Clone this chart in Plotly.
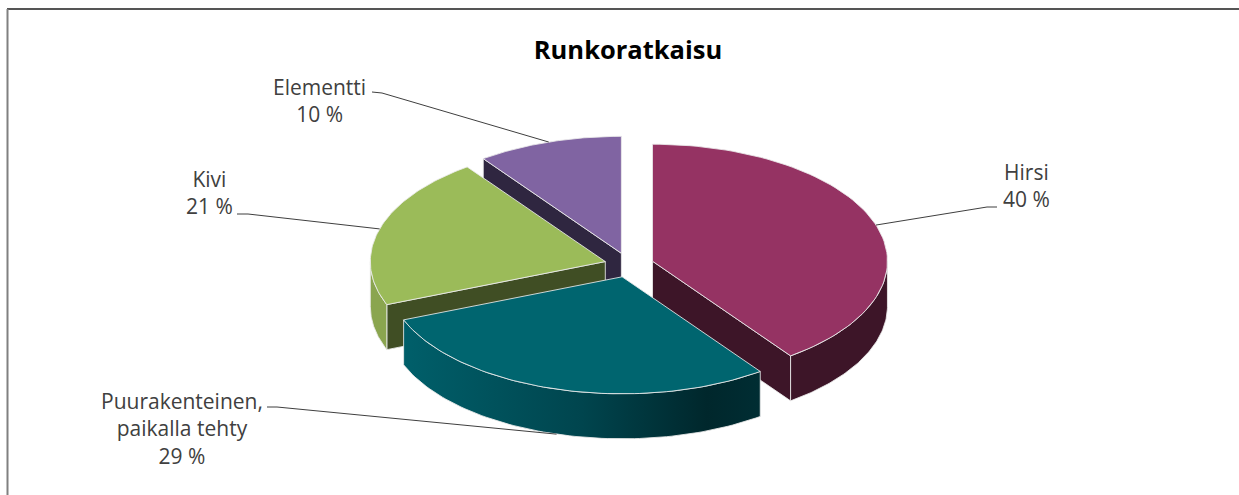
import numpy as np
import plotly.graph_objects as go

# Data
categories = ["Hirsi", "Puurakenteinen,<br>paikalla tehty", "Kivi", "Elementti"]
values = [40, 29, 21, 10]

# Styling per slice: top face, radial wall, outer wall
top_colors = ["#953363", "#00656f", "#9bbb59", "#8064a2"]
side_colors = ["#3d1528", "#003a42", "#404e24", "#2f2640"]
outer_colors = ["#3d1528", None, "#8aa54f", "#5b4775"]
puu_gradient = [[0, "#005f6a"], [0.5, "#00454e"], [0.85, "#00272c"], [1, "#002d33"]]

# Pie geometry in page pixels
CX, CY = 629, 265
RX, RY = 235, 117
DEPTH = 45
EXPLODE = 0.105

# Label placement (centre of text block) and leader-line stubs
label_pos = [(1026, 185), (182, 428), (209, 192), (319, 100)]
leader_stub = [((997, 207), (987, 207)), ((267, 407), (277, 407)),
               ((237, 214), (248, 214)), ((372, 92), (382, 93))]

W, H = 1239, 495
fig = go.Figure()

total = sum(values)
bounds = np.concatenate([[0], np.cumsum(values)]) / total * 360.0


def pt(theta, cx, cy, dz=0.0):
    t = np.radians(theta)
    return cx + RX * np.sin(t), cy - RY * np.cos(t) + dz


def arc(a, b, cx, cy, dz=0.0, n=80):
    th = np.linspace(a, b, n)
    x, y = pt(th, cx, cy, dz)
    return list(x), list(y)


edge = dict(color="rgba(235,235,235,0.85)", width=1)


def poly(xs, ys, color, gradient=None):
    kw = dict(x=xs + [xs[0]], y=ys + [ys[0]], mode="lines", fill="toself",
              line=edge, hoverinfo="skip", showlegend=False)
    if gradient is not None:
        kw["fillgradient"] = dict(type="horizontal", colorscale=gradient)
    else:
        kw["fillcolor"] = color
    fig.add_trace(go.Scatter(**kw))


slices = []
for i, v in enumerate(values):
    a, b = bounds[i], bounds[i + 1]
    m = (a + b) / 2
    cx = CX + EXPLODE * RX * np.sin(np.radians(m))
    cy = CY - EXPLODE * RY * np.cos(np.radians(m))
    slices.append((i, a, b, m, cx, cy))

# paint back-to-front by depth of the bisector
order = sorted(slices, key=lambda s: -np.cos(np.radians(s[3])))
for i, a, b, m, cx, cy in order:
    # radial wall at start angle, visible when facing the viewer
    if np.sin(np.radians(a)) < -1e-6:
        px, py = pt(a, cx, cy)
        poly([cx, px, px, cx], [cy, py, py + DEPTH, cy + DEPTH], side_colors[i])
    # radial wall at end angle
    if np.sin(np.radians(b)) > 1e-6:
        px, py = pt(b, cx, cy)
        poly([cx, px, px, cx], [cy, py, py + DEPTH, cy + DEPTH], side_colors[i])
    # outer curved wall on the front half
    lo, hi = max(a, 90), min(b, 270)
    if hi > lo:
        tx, ty = arc(lo, hi, cx, cy)
        bx, by = arc(hi, lo, cx, cy, DEPTH)
        if outer_colors[i] is None:
            poly(tx + bx, ty + by, None, gradient=puu_gradient)
        else:
            poly(tx + bx, ty + by, outer_colors[i])
    # top face
    tx, ty = arc(a, b, cx, cy)
    poly([cx] + tx, [cy] + ty, top_colors[i])

# Leader lines and labels
for i, a, b, m, cx, cy in slices:
    front = 90 < m < 270
    ax_, ay_ = pt(m, cx, cy, DEPTH if front else 0)
    (sx, sy), (ex, ey) = leader_stub[i]
    fig.add_trace(go.Scatter(x=[sx, ex, ax_], y=[sy, ey, ay_], mode="lines",
                             line=dict(color="#3f3f3f", width=1),
                             hoverinfo="skip", showlegend=False))
    pct = round(100 * values[i] / total)
    lx, ly = label_pos[i]
    fig.add_annotation(x=lx, y=ly, xref="x", yref="y", text=f"{categories[i]}<br>{pct} %",
                       showarrow=False, xanchor="center", yanchor="middle",
                       font=dict(family="Open Sans", size=21, color="#404040"))

# Frame lines along top and left edge
fig.add_shape(type="line", xref="paper", yref="paper", x0=7 / W, x1=1, y0=1 - 9 / H, y1=1 - 9 / H,
              line=dict(color="#555555", width=2))
fig.add_shape(type="line", xref="paper", yref="paper", x0=7.5 / W, x1=7.5 / W, y0=0, y1=1 - 9 / H,
              line=dict(color="#808080", width=2))

fig.update_layout(
    width=W, height=H, autosize=False,
    margin=dict(l=0, r=0, t=0, b=0, pad=0),
    paper_bgcolor="white", plot_bgcolor="white",
    title=dict(text="<b>Runkoratkaisu</b>", x=628 / W, xanchor="center", y=1 - 50 / H, yanchor="middle",
               font=dict(family="Open Sans", size=25.5, color="#000000")),
    xaxis=dict(range=[0, W], visible=False, fixedrange=True),
    yaxis=dict(range=[H, 0], visible=False, fixedrange=True),
)

fig.write_html("out.html")
